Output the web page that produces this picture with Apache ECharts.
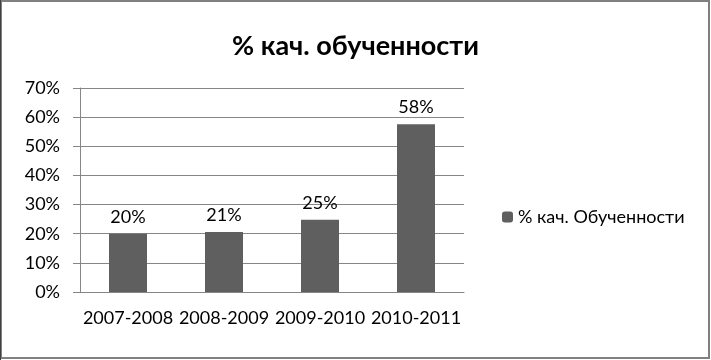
<!DOCTYPE html>
<html><head><meta charset="utf-8">
<script src="https://cdn.jsdelivr.net/npm/echarts@6/dist/echarts.min.js"></script>
<style>html,body{margin:0;padding:0;background:#fff}#c{width:711px;height:360px}</style>
</head><body><div id="c"></div>
<script>
const categories = ['2007-2008','2008-2009','2009-2010','2010-2011'];
const values = [20, 20.6, 24.8, 57.6];
const seriesName = '% кач. Обученности';
const titleText = '% кач. обученности';
const yTicks = [0,10,20,30,40,50,60,70];

const font = 'Lato, "Open Sans", sans-serif';
const chart = echarts.init(document.getElementById('c'));
chart.setOption({
  backgroundColor: '#fff',
  animation: false,
  title: {text: titleText, left: 'center', top: 28,
    textStyle: {fontFamily: font, fontSize: 27, fontWeight: 'bold', color: '#000'}},
  legend: {data: [seriesName], orient: 'vertical', left: 497, top: 203,
    itemWidth: 11, itemHeight: 11, itemGap: 6,
    textStyle: {fontFamily: font, fontSize: 18, color: '#000'}},
  grid: {left: 80, right: 247, top: 88, bottom: 68},
  xAxis: {type: 'category', data: categories,
    axisLine: {lineStyle: {color: '#868686'}},
    axisTick: {length: 6, lineStyle: {color: '#868686'}},
    axisLabel: {interval: 0, fontFamily: font, fontSize: 18, color: '#000', margin: 17}},
  yAxis: {type: 'value', min: yTicks[0], max: yTicks[yTicks.length-1], interval: 10,
    axisLine: {show: true, lineStyle: {color: '#868686'}},
    axisTick: {show: true, length: 7, lineStyle: {color: '#868686'}},
    splitLine: {lineStyle: {color: '#868686'}},
    axisLabel: {fontFamily: font, fontSize: 18, color: '#000', margin: 20, formatter: v => v + '%'}},
  series: [{name: seriesName, type: 'bar', data: values, barWidth: 38,
    itemStyle: {color: '#5f5f5f'},
    label: {show: true, position: 'top', distance: 8, fontFamily: font, fontSize: 18, color: '#000',
      formatter: p => Math.round(p.value) + '%'}}],
  graphic: [{type: 'rect', shape: {x: 1, y: 1, width: 708, height: 357},
    style: {fill: 'none', stroke: '#808080', lineWidth: 2}, silent: true},
    {type: 'rect', shape: {x: 0, y: 0, width: 1, height: 360}, style: {fill: '#404040'}, silent: true}]
});
</script></body></html>
